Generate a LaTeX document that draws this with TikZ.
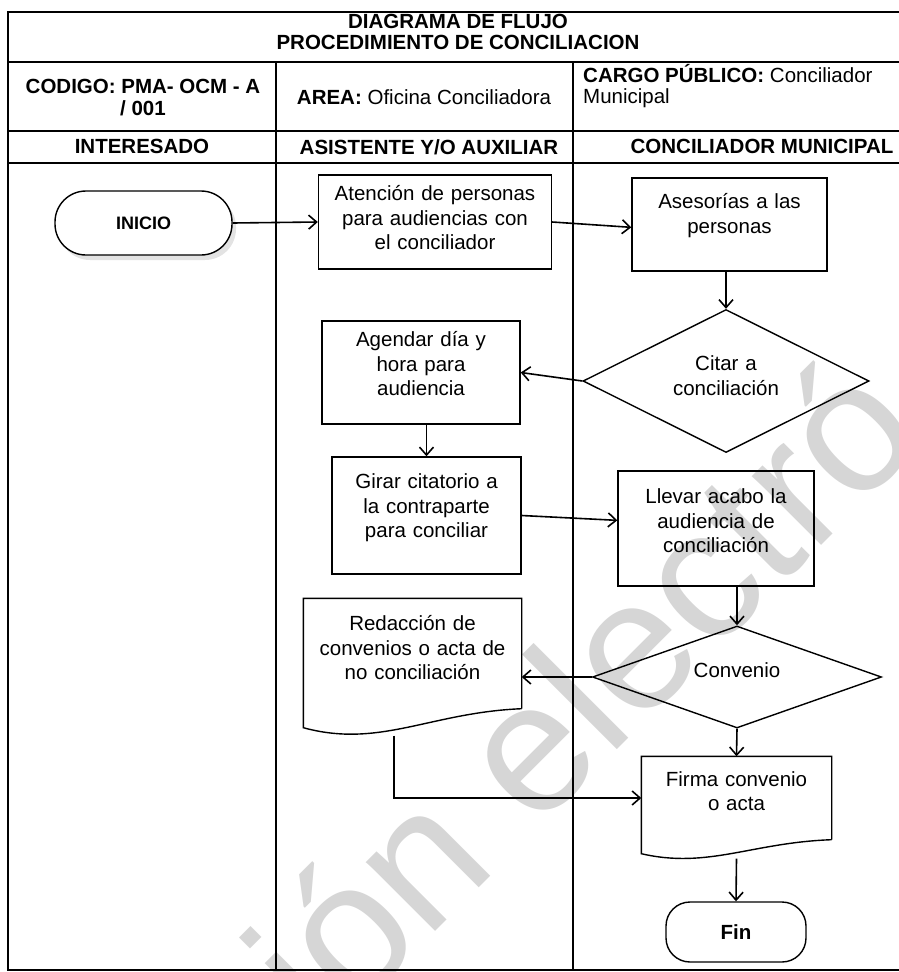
\documentclass[tikz,border=0pt]{standalone}
\usepackage{fontspec}
\setmainfont{Liberation Sans}
\usetikzlibrary{calc,shapes.geometric,arrows.meta,shadows}
\newcommand\docwave[2]{%
  \draw[shp] (#1.south east) -- (#1.north east) -- (#1.north west) -- ($(#1.south west)+(0,#2)$)
    .. controls ($(#1.south west)!0.35!(#1.south east)+(0,2.1*#2)$) and ($(#1.south west)!0.58!(#1.south east)+(0,0.2*#2)$) .. (#1.south east);}
\tikzset{
  lane/.style={line width=1.8pt},
  hdr/.style={inner sep=0pt, align=center, font=\fontsize{20.5}{21.5}\selectfont\bfseries},
  hdrplain/.style={inner sep=0pt, align=left, font=\fontsize{20.5}{21.5}\selectfont},
  shp/.style={line width=1.4pt},
  proc/.style={shp, draw, inner sep=0pt, align=center, font=\fontsize{20.5}{24.5}\selectfont},
  textup/.style={execute at end node={\par\vspace*{#1}}},
  doc/.style={proc, draw=none},
  decision/.style={proc, diamond, aspect=2},
  terminal/.style={proc, font=\fontsize{20.5}{24.5}\selectfont\bfseries},
  conn/.style={line width=1.6pt, -{Straight Barb[length=8pt,width=14pt]}},
  marca/.style={inner sep=0pt, anchor=base west, rotate=45, text=black!16, font=\fontsize{185}{185}\selectfont}
}

\begin{document}
\begin{tikzpicture}[x=1pt, y=-1pt]
    \useasboundingbox (0,0) rectangle (899,972);
    \begin{scope}
        \clip (0,0) rectangle (899,972);
        \node[marca] (marca) at (325,1042) {ión electró};
    \end{scope}

    \draw[lane] (899,12) -- (8,12) -- (8,970) -- (899,970);
    \foreach \y in {62,131,163} \draw[lane] (8,\y) -- (899,\y);
    \foreach \x in {276,573} \draw[lane] (\x,62) -- (\x,970);

    \node[hdr] (titulo) at (458,32) {DIAGRAMA DE FLUJO\\PROCEDIMIENTO DE CONCILIACION};
    \node[hdr] (codigo) at (143,97.5) {CODIGO: PMA- OCM - A\\/ 001};
    \node[hdrplain] (area) at (424,97) {\textbf{AREA:} Oficina Conciliadora};
    \node[hdrplain, anchor=west] (cargo) at (583,86) {\textbf{CARGO PÚBLICO:} Conciliador\\Municipal};
    \node[hdr] (interesado) at (142,146) {INTERESADO};
    \node[hdr] (asistente) at (429,147) {ASISTENTE Y/O AUXILIAR};
    \node[hdr] (conciliador) at (762,146) {CONCILIADOR MUNICIPAL};

    \node[terminal, fill=white, rounded corners=31, minimum width=177, minimum height=64, font=\fontsize{18}{20}\selectfont\bfseries,
          drop shadow={shadow xshift=4pt, shadow yshift=-5pt, fill=black!22}] (inicio) at (143.5,223) {INICIO};
    \node[proc, minimum width=233, minimum height=94, text width=225pt, textup=8pt] (atencion) at (435,222) {Atención de personas\\para audiencias con\\el conciliador};
    \node[proc, minimum width=195, minimum height=93, text width=185pt, textup=18pt] (asesorias) at (729.5,224.5) {Asesorías a las\\personas};
    \node[decision, minimum width=286, minimum height=143, text width=130pt, textup=11pt] (citar) at (726,381) {Citar a\\conciliación};
    \node[proc, minimum width=198, minimum height=103, text width=190pt, textup=17pt] (agendar) at (421,372.5) {Agendar día y\\hora para\\audiencia};
    \node[proc, minimum width=189, minimum height=117, text width=180pt, textup=15pt] (girar) at (426.5,515.5) {Girar citatorio a\\la contraparte\\para conciliar};
    \node[proc, minimum width=196, minimum height=115, text width=188pt, textup=15pt] (llevar) at (716,528.5) {Llevar acabo la\\audiencia de\\conciliación};
    \node[decision, minimum width=289, minimum height=102, text width=100pt, textup=14pt] (convenio) at (737,677) {Convenio};
    \node[doc, minimum width=217, minimum height=109, text width=205pt, textup=11pt] (redaccion) at (412.5,653.5) {Redacción de\\convenios o acta de\\no conciliación};
    \node[doc, minimum width=189, minimum height=82, text width=180pt, textup=14pt] (firma) at (736.5,798) {Firma convenio\\o acta};
    \node[terminal, rounded corners=24, minimum width=140, minimum height=60] (fin) at (736,932) {Fin};
    \docwave{redaccion}{19}
    \docwave{firma}{14}

    \coordinate (redout) at ($(redaccion.south west)!0.415!(redaccion.south east)+(0,27)$);
    \coordinate (firmaout) at ($(firma.south)+(0,19)$);
    \draw[conn] (inicio.east) -- (atencion.west);
    \draw[conn] (atencion.east) -- ($(asesorias.north west)!0.53!(asesorias.south west)$);
    \draw[conn] (asesorias.south -| citar.north) -- (citar.north);
    \draw[conn] (citar.west) -- (agendar.east);
    \draw[conn] (agendar.south -| girar.north) -- (girar.north);
    \draw[conn] (girar.east) -- ($(llevar.north west)!0.43!(llevar.south west)$);
    \draw[conn] (llevar.south -| convenio.north) -- (convenio.north);
    \draw[conn] (convenio.west) -- (convenio.west -| redaccion.east);
    \draw[conn] (convenio.south) -- (firma.north);
    \draw[conn] (redout) |- (firma.west);
    \draw[conn] (firmaout) -- (fin.north);
\end{tikzpicture}
\end{document}
